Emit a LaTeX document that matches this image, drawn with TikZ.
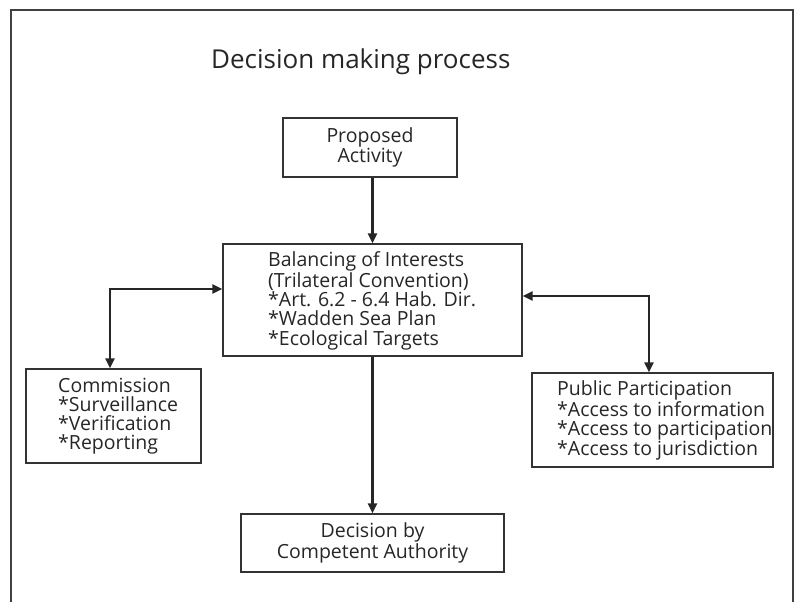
\documentclass[tikz,border=0pt]{standalone}
\usepackage{fontspec}
\setmainfont{Open Sans}
\usetikzlibrary{arrows.meta}
\begin{document}
\begin{tikzpicture}[x=1pt,y=-1pt,
  box/.style={draw=black!80, line width=1.2pt, inner sep=0pt, align=center,
    font=\fontsize{19.5}{19.3}\selectfont, text=black!85},
  txt/.style={inner sep=0pt, align=left, font=\fontsize{19.5}{19.3}\selectfont, text=black!85},
  tip/.tip={Triangle[length=10pt,width=9pt]},
  link/.style={line width=2.2pt, draw=black!85, -tip},
  dlink/.style={line width=2.2pt, draw=black!85, tip-tip},
]
\useasboundingbox (0,0) rectangle (799,602);
% open frame
\draw[line width=1.3pt, black!75] (11,602) -- (11,10) -- (793,10) -- (793,602);

\node[anchor=base west, inner sep=0pt, font=\fontsize{26}{26}\selectfont, text=black!85]
  (title) at (211,68) {Decision making process};

% boxes
\node[box, minimum width=174pt, minimum height=59pt] (proposed) at (370,147.5) {Proposed\\Activity};
\node[box, minimum width=299pt, minimum height=112pt] (balance) at (372.5,300) {};
\node[box, minimum width=175pt, minimum height=94pt] (comm) at (113.5,416) {};
\node[box, minimum width=241pt, minimum height=94pt] (public) at (652.5,420) {};
\node[box, minimum width=263pt, minimum height=58pt] (decision) at (372.5,543) {Decision by\\Competent Authority};

% box texts
\node[txt, anchor=north west] (balancetxt) at (268,251.5)
  {Balancing of Interests\\(Trilateral Convention)\\*Art. 6.2 - 6.4 Hab. Dir.\\*Wadden Sea Plan\\*Ecological Targets};
\node[txt, anchor=north west] (commtxt) at (58,377.5)
  {Commission\\*Surveillance\\*Verification\\*Reporting};
\node[txt, anchor=north west] (publictxt) at (557,380.5)
  {Public Participation\\*Access to information\\*Access to participation\\*Access to jurisdiction};

% connectors
\draw[link] (balance.north |- proposed.south) -- (balance.north);
\draw[dlink] ([yshift=11pt]balance.west) -| ([xshift=-3.5pt]comm.north);
\draw[dlink] ([yshift=4pt]balance.east) -| ([xshift=-3.5pt]public.north);
\draw[link] (balance.south) -- (decision.north);
\end{tikzpicture}
\end{document}
